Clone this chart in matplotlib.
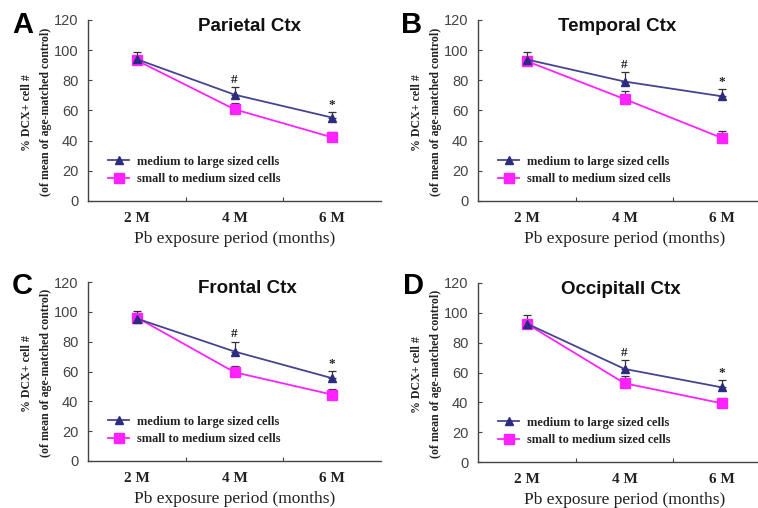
import numpy as np
import matplotlib
matplotlib.use("Agg")
import matplotlib.pyplot as plt

# Data (means and upper error bars, % of age-matched control)
periods = ["2 M", "4 M", "6 M"]
panel_letters = ["A", "B", "C", "D"]
panel_titles = ["Parietal Ctx", "Temporal Ctx", "Frontal Ctx", "Occipitall Ctx"]
ylabel_lines = ["% DCX+ cell #", "(of mean of age-matched control)"]

large_mean = [
    [94.0, 70.5, 55.3],
    [93.8, 79.2, 69.4],
    [95.5, 73.4, 55.5],
    [92.8, 62.4, 50.0],
]
large_err = [
    [4.8, 5.0, 3.6],
    [5.0, 6.0, 4.8],
    [5.0, 6.5, 4.6],
    [5.5, 5.8, 4.8],
]
small_mean = [
    [93.2, 60.8, 42.2],
    [92.7, 67.6, 41.7],
    [96.2, 59.5, 44.5],
    [92.6, 52.8, 39.3],
]
small_err = [
    [3.0, 4.4, 3.3],
    [3.0, 5.6, 4.4],
    [3.0, 4.4, 3.6],
    [3.0, 4.8, 3.6],
]
# significance marks above the medium-to-large series
sig_marks = ["", "#", "*"]

NAVY = "#2b2b80"
NAVY_LINE = "#45458f"
MAGENTA = "#ff22ff"

plt.rcParams["font.family"] = ["Liberation Serif", "DejaVu Serif"]
SANS = ["Liberation Sans", "DejaVu Sans"]

fig = plt.figure(figsize=(7.58, 5.08), dpi=100)
W, H = 758.0, 508.0

# axes boxes in pixels: left, top(120), right, bottom(0)
boxes = [
    (88, 20, 381, 201),
    (478, 20, 771, 201),
    (88, 282, 381, 461),
    (478, 283, 771, 462),
]
# title centres and panel letter corners, pixels
title_pos = [(249, 18), (617, 18), (247, 280), (621, 281)]
letter_pos = [(12, 11), (401, 11), (12, 272), (403, 272)]
# horizontal offsets (px) of the two y-label lines from the y axis
ylabel_dx = [-61, -42]

x = np.arange(1, len(periods) + 1)

for k in range(4):
    l, t, r, b = boxes[k]
    ax = fig.add_axes([l / W, 1 - b / H, (r - l) / W, (b - t) / H])
    ax.set_xlim(0.5, 3.5)
    ax.set_ylim(0, 120)
    for s in ["top", "right"]:
        ax.spines[s].set_visible(False)
    for s in ["left", "bottom"]:
        ax.spines[s].set_color("#444444")
        ax.spines[s].set_linewidth(1.0)

    # upper-only error bars
    ax.errorbar(x, large_mean[k], yerr=[np.zeros(3), large_err[k]], fmt="none",
                ecolor="#333333", elinewidth=0.9, capsize=3, capthick=0.9,
                zorder=2)
    ax.errorbar(x, small_mean[k], yerr=[np.zeros(3), small_err[k]], fmt="none",
                ecolor="#333333", elinewidth=0.9, capsize=3, capthick=0.9,
                zorder=2)
    ax.plot(x, large_mean[k], color=NAVY_LINE, lw=1.3, marker="^", ms=6,
            mfc=NAVY, mec=NAVY, label="medium to large sized cells", zorder=4)
    ax.plot(x, small_mean[k], color=MAGENTA, lw=1.3, marker="s", ms=7,
            mfc=MAGENTA, mec=MAGENTA, label="small to medium sized cells",
            zorder=3)

    for i, m in enumerate(sig_marks):
        if m:
            ytop = large_mean[k][i] + large_err[k][i]
            ax.text(x[i], ytop + 1.0, m, ha="center", va="bottom",
                    fontsize=9.5, fontweight="bold", color="#222222")

    ax.set_xticks([1.5, 2.5])
    ax.set_xticklabels([])
    ax.set_xticks(x, minor=True)
    ax.set_xticklabels(periods, minor=True, fontsize=11, fontweight="bold",
                       color="#222222")
    ax.tick_params(axis="x", which="major", direction="in", length=3,
                   color="#444444")
    ax.tick_params(axis="x", which="minor", length=0, pad=8)
    ax.set_yticks(np.arange(0, 121, 20))
    ax.tick_params(axis="y", direction="in", length=3, color="#444444",
                   labelsize=10.5, pad=7, labelcolor="#444444")
    for lab in ax.get_yticklabels():
        lab.set_fontfamily(SANS)

    ax.set_xlabel("Pb exposure period (months)", fontsize=12.5, labelpad=4,
                  color="#222222")
    for line, dx in zip(ylabel_lines, ylabel_dx):
        ax.text(dx / (r - l), 0.49, line, transform=ax.transAxes,
                rotation=90, ha="center", va="center", fontsize=8.6,
                fontweight="bold", color="#222222")

    tx, ty = title_pos[k]
    fig.text(tx / W, 1 - ty / H, panel_titles[k], ha="center", va="top",
             fontsize=13.5, fontweight="bold", family=SANS, color="#111111")

    lx, ly = letter_pos[k]
    fig.text(lx / W, 1 - ly / H, panel_letters[k], ha="left", va="top",
             fontsize=21, fontweight="bold", family=SANS, color="black")

    leg = ax.legend(loc="lower left", bbox_to_anchor=(0.04, 0.04),
                    frameon=False, fontsize=8.9, handlelength=1.7,
                    handletextpad=0.6, labelspacing=0.45, borderaxespad=0.3)
    for txt in leg.get_texts():
        txt.set_fontweight("bold")
        txt.set_color("#222222")

fig.savefig("out.png", dpi=100)
